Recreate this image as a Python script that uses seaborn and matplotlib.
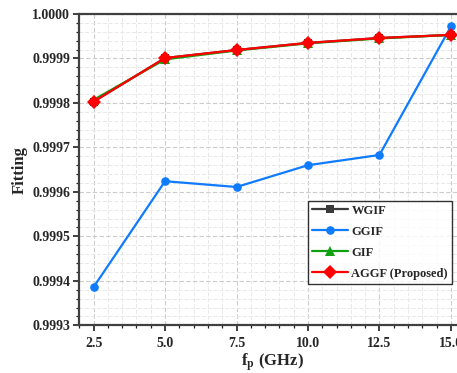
import numpy as np
import pandas as pd
import matplotlib
matplotlib.use("Agg")
import matplotlib.pyplot as plt
from matplotlib.ticker import MultipleLocator, FormatStrFormatter
import seaborn as sns

# Pump frequency (GHz) and fitting scores of each filter
freq = [2.5, 5.0, 7.5, 10.0, 12.5, 15.0]
wgif = [0.999803, 0.999901, 0.999919, 0.999935, 0.999946, 0.999953]
ggif = [0.999386, 0.999624, 0.999611, 0.999660, 0.999683, 0.999972]
gif = [0.999807, 0.999898, 0.999918, 0.999934, 0.999945, 0.999953]
aggf = [0.999803, 0.999901, 0.999919, 0.999935, 0.999946, 0.999953]

names = ["WGIF", "GGIF", "GIF", "AGGF (Proposed)"]
series = [wgif, ggif, gif, aggf]
colors = ["#3a3a3a", "#0f7bff", "#10a010", "#ff0000"]
markers = ["s", "o", "^", "D"]
msizes = [5.5, 6.2, 6.5, 6.8]

frames = [pd.DataFrame({"freq": freq, "fit": vals, "method": n}) for n, vals in zip(names, series)]
df = pd.concat(frames, ignore_index=True)

sns.set_theme(style="white")
plt.rcParams["font.family"] = ["Liberation Serif", "DejaVu Serif"]
plt.rcParams["font.weight"] = "bold"
plt.rcParams["mathtext.fontset"] = "stix"

fig = plt.figure(figsize=(4.57, 3.73), dpi=100)
ax = fig.add_axes([79.3 / 457, (373 - 325.3) / 373, 385.9 / 457, (325.3 - 14) / 373])

for n, col, mk, ms in zip(names, colors, markers, msizes):
    sub = df[df["method"] == n]
    sns.lineplot(data=sub, x="freq", y="fit", ax=ax, color=col, marker=mk,
                 markersize=ms, markeredgewidth=0, linewidth=1.6, label=n,
                 errorbar=None)

ax.set_xlim(2.0, 15.5)
ax.set_ylim(0.9993, 1.0000)
ax.xaxis.set_major_locator(MultipleLocator(2.5))
ax.xaxis.set_minor_locator(MultipleLocator(0.5))
ax.yaxis.set_major_locator(MultipleLocator(0.0001))
ax.yaxis.set_minor_locator(MultipleLocator(0.00002))
ax.xaxis.set_major_formatter(FormatStrFormatter("%.1f"))
ax.yaxis.set_major_formatter(FormatStrFormatter("%.4f"))

ax.grid(which="major", color="#cccccc", linestyle=(0, (4, 2)), linewidth=0.8)
ax.grid(which="minor", color="#e8e8e8", linestyle=(0, (4, 2)), linewidth=0.7)
ax.set_axisbelow(True)

for s in ax.spines.values():
    s.set_color("#404040")
    s.set_linewidth(1.6)

ax.tick_params(which="major", direction="out", length=4.3, width=1.2, color="#202020",
               left=True, bottom=True, top=False, right=False, labelsize=10, pad=2.2)
ax.tick_params(which="minor", direction="out", length=2.4, width=0.9, color="#202020",
               left=True, bottom=True, top=False, right=False)
ax.tick_params(axis="x", which="major", pad=4.2)
for lab in ax.get_xticklabels() + ax.get_yticklabels():
    lab.set_fontweight("bold")

ax.set_xlabel(r"f$_\mathbf{p}$ (GHz)", fontsize=12, fontweight="bold", labelpad=1)
ax.set_ylabel("Fitting", fontsize=12, fontweight="bold", labelpad=3)

leg = ax.legend(loc="upper left", bbox_to_anchor=(308 / 457, 1 - 201 / 373),
                bbox_transform=fig.transFigure, frameon=True, fancybox=False,
                prop={"weight": "bold", "size": 9.0}, handlelength=2.9,
                handletextpad=0.27, labelspacing=0.72, borderpad=0.3,
                borderaxespad=0)
leg.get_frame().set_edgecolor("#000000")
leg.get_frame().set_linewidth(1.0)

fig.savefig("out.png", dpi=100)
